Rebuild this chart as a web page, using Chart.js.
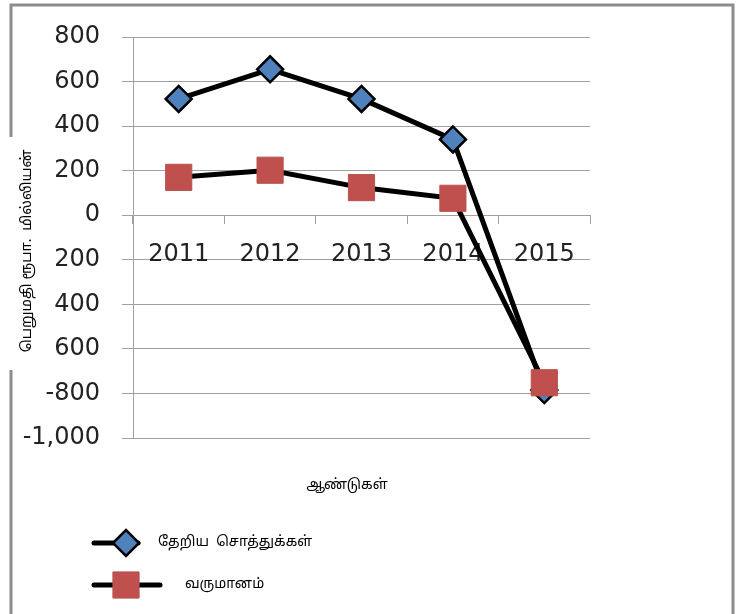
<!DOCTYPE html>
<html>
<head>
<meta charset="utf-8">
<script src="https://cdn.jsdelivr.net/npm/chart.js@4.4.1/dist/chart.umd.min.js"></script>
<style>
  body { margin: 0; background: #fff; }
  #wrap { width: 744px; height: 614px; }
</style>
</head>
<body>
<div id="wrap"><canvas id="myChart" width="744" height="614"></canvas></div>
<script>
const years = ['2011', '2012', '2013', '2014', '2015'];
const netAssets = [522, 655, 522, 340, -785];
const income = [170, 202, 124, 76, -752];
const yTickValues = [800, 600, 400, 200, 0, -200, -400, -600, -800, -1000];
const yTickLabels = ['800', '600', '400', '200', '0', '200', '400', '600', '-800', '-1,000'];

const seriesNames = ['தேறிய  சொத்துக்கள்', 'வருமானம்'];
const yTitle = 'பெறுமதி ரூபா.  மில்லியன்';
const xTitle = 'ஆண்டுகள்';

const tamilFont = '"Noto Sans Tamil", "Noto Sans", "Lohit Tamil", sans-serif';

// frame, axis titles and the legend, drawn by hand
const decorations = {
  id: 'decorations',
  beforeDraw(chart) {
    const ctx = chart.ctx;
    ctx.save();
    ctx.fillStyle = '#fff';
    ctx.fillRect(0, 0, chart.width, chart.height);
    ctx.strokeStyle = '#8c8c8c';
    ctx.lineWidth = 3;
    ctx.beginPath();
    ctx.moveTo(11, 614);
    ctx.lineTo(11, 370);
    ctx.moveTo(11, 137);
    ctx.lineTo(11, 5);
    ctx.lineTo(733, 5);
    ctx.lineTo(733, 614);
    ctx.stroke();
    ctx.restore();
  },
  afterDraw(chart) {
    const ctx = chart.ctx;
    ctx.save();
    ctx.fillStyle = '#000';
    ctx.textBaseline = 'middle';

    ctx.font = '14px ' + tamilFont;
    ctx.textAlign = 'center';
    ctx.fillText(xTitle, 347, 486);

    ctx.save();
    ctx.font = '14.5px ' + tamilFont;
    ctx.translate(28, 251);
    ctx.rotate(-Math.PI / 2);
    ctx.fillText(yTitle, 0, 0);
    ctx.restore();

    // legend
    const rows = [
      { y: 543, lineEnd: 138, textX: 158 },
      { y: 585, lineEnd: 160, textX: 185 }
    ];
    ctx.font = '14px ' + tamilFont;
    chart.data.datasets.forEach(ds => {
      const r = rows[ds.legendRow];
      ctx.strokeStyle = '#000';
      ctx.lineWidth = 5;
      ctx.lineCap = 'round';
      ctx.beginPath();
      ctx.moveTo(94, r.y);
      ctx.lineTo(r.lineEnd, r.y);
      ctx.stroke();
      ctx.lineCap = 'butt';
      ctx.fillStyle = ds.pointBackgroundColor;
      ctx.strokeStyle = ds.pointBorderColor;
      ctx.lineWidth = ds.pointBorderWidth;
      Chart.helpers.drawPoint(ctx, {
        pointStyle: ds.pointStyle,
        radius: ds.pointRadius,
        borderWidth: ds.pointBorderWidth
      }, 126, r.y);
      ctx.fillStyle = '#000';
      ctx.textAlign = 'left';
      ctx.fillText(ds.label, r.textX, r.y);
    });
    ctx.restore();
  }
};

new Chart('myChart', {
  type: 'line',
  data: {
    labels: years,
    datasets: [{
      label: seriesNames[1],
      legendRow: 1,
      order: 0,
      data: income,
      borderColor: '#000',
      borderWidth: 5,
      pointStyle: 'rect',
      pointRadius: 18.5,
      pointHoverRadius: 18.5,
      pointBackgroundColor: '#c0504d',
      pointBorderColor: '#b5534f',
      pointBorderWidth: 1,
      fill: false
    }, {
      label: seriesNames[0],
      legendRow: 0,
      order: 1,
      data: netAssets,
      borderColor: '#000',
      borderWidth: 5,
      pointStyle: 'rectRot',
      pointRadius: 13,
      pointHoverRadius: 13,
      pointBackgroundColor: '#4f81bd',
      pointBorderColor: '#000',
      pointBorderWidth: 2.5,
      fill: false
    }]
  },
  options: {
    responsive: false,
    animation: false,
    layout: { padding: { left: 0, right: 154, top: 37, bottom: 176 } },
    plugins: {
      legend: { display: false },
      tooltip: { enabled: false }
    },
    scales: {
      x: {
        type: 'category',
        offset: true,
        position: { y: 0 },
        grid: { display: true, offset: true, drawOnChartArea: false, tickLength: 8, color: '#a0a0a0' },
        border: { display: true, color: '#a0a0a0' },
        ticks: {
          color: '#222',
          padding: 17,
          font: { family: 'DejaVu Sans', size: 24 },
          maxRotation: 0
        }
      },
      y: {
        min: -1000,
        max: 800,
        afterFit(scale) { scale.width = 133; },
        afterBuildTicks(scale) {
          scale.ticks = yTickValues.slice().reverse().map(v => ({ value: v }));
        },
        grid: { color: '#a0a0a0', tickLength: 11 },
        border: { display: true, color: '#a0a0a0' },
        ticks: {
          color: '#222',
          padding: 22,
          font: { family: 'DejaVu Sans', size: 24 },
          callback(value) {
            const i = yTickValues.indexOf(value);
            return i >= 0 ? yTickLabels[i] : '';
          }
        }
      }
    }
  },
  plugins: [decorations]
});
</script>
</body>
</html>
